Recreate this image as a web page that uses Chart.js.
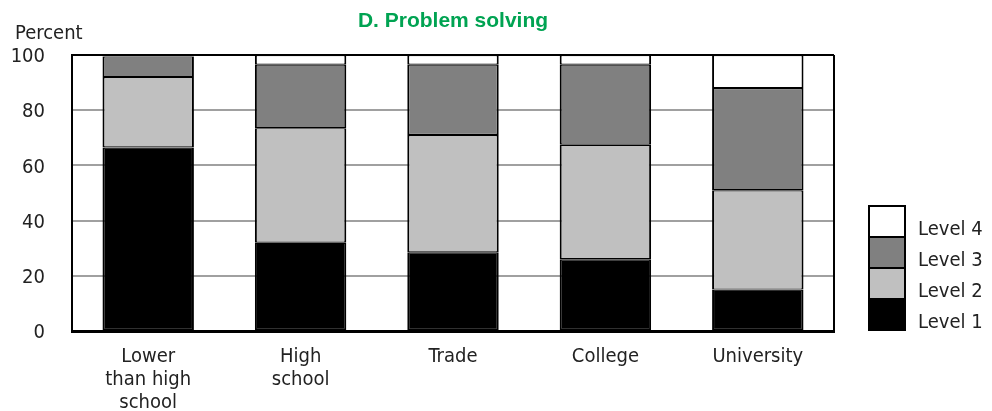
<!DOCTYPE html>
<html><head><meta charset="utf-8">
<script src="https://cdn.jsdelivr.net/npm/chart.js@4.4.1/dist/chart.umd.min.js"></script>
<style>html,body{margin:0;padding:0;background:#fff}#wrap{width:992px;height:411px}</style>
</head><body><div id="wrap"><canvas id="c" width="992" height="411"></canvas></div>
<script>
const categories = [["Lower","than high","school"], ["High","school"], "Trade", "College", "University"];
const level1 = [66.5, 32, 28.5, 26, 15];
const level2 = [25.5, 41.5, 42.5, 41.5, 36];
const level3 = [7.5, 23, 25.5, 29, 37];
const level4 = [0.5, 3.5, 3.5, 3.5, 12];
const seriesNames = ["Level 1", "Level 2", "Level 3", "Level 4"];
const seriesColors = ["#000000", "#c0c0c0", "#808080", "#ffffff"];
const yTicks = [0, 20, 40, 60, 80, 100];
const titleText = "D. Problem solving";
const yAxisLabel = "Percent";

const NARROW = "'Liberation Sans Narrow', 'Arial Narrow', 'DejaVu Sans Condensed', sans-serif";

const decor = {
  id: 'decor',
  afterDraw(chart) {
    const ctx = chart.ctx, a = chart.chartArea;
    ctx.save();
    // right border
    ctx.strokeStyle = '#000'; ctx.lineWidth = 2;
    ctx.beginPath(); ctx.moveTo(a.right, a.top); ctx.lineTo(a.right, a.bottom); ctx.stroke();
    // title
    ctx.fillStyle = '#00a352';
    ctx.font = "bold 21px 'Liberation Sans', Arial, sans-serif";
    ctx.textAlign = 'center'; ctx.textBaseline = 'alphabetic';
    ctx.fillText(titleText, (a.left + a.right) / 2, 27);
    // y axis label
    ctx.fillStyle = '#222';
    ctx.font = "20px " + NARROW;
    ctx.textAlign = 'left';
    ctx.fillText(yAxisLabel, 15, 39);
    // legend
    const bx = 869, bw = 36, bh = 31, top = 206;
    const ds = chart.data.datasets;
    for (let i = ds.length - 1, k = 0; i >= 0; i--, k++) {
      const y = top + k * bh;
      ctx.fillStyle = ds[i].backgroundColor;
      ctx.fillRect(bx, y, bw, bh);
      ctx.strokeStyle = '#000'; ctx.lineWidth = 2;
      ctx.strokeRect(bx, y, bw, bh);
      ctx.fillStyle = '#222';
      ctx.font = "20px " + NARROW;
      ctx.textAlign = 'left'; ctx.textBaseline = 'middle';
      ctx.fillText(ds[i].label, 918, y + bh / 2 + 8);
    }
    ctx.restore();
  }
};

new Chart(document.getElementById('c'), {
  type: 'bar',
  data: {
    labels: categories,
    datasets: [level1, level2, level3, level4].map((d, i) => ({
      label: seriesNames[i],
      data: d,
      backgroundColor: seriesColors[i],
      borderColor: '#000',
      borderWidth: { top: 1.2, bottom: 1.2, left: 2, right: 2 },
      borderSkipped: false,
      barPercentage: 0.6,
      categoryPercentage: 1.0
    }))
  },
  options: {
    responsive: false,
    animation: false,
    devicePixelRatio: 1,
    layout: { padding: { top: 55, right: 158, left: 0, bottom: 0 } },
    plugins: { legend: { display: false }, title: { display: false }, tooltip: { enabled: false } },
    scales: {
      x: {
        stacked: true,
        grid: { display: false, drawTicks: false },
        border: { display: true, color: '#000', width: 3 },
        ticks: { color: '#222', font: { family: NARROW, size: 20, lineHeight: 1.15 }, padding: 14, maxRotation: 0, autoSkip: false },
        afterFit(s) { s.height = 80; }
      },
      y: {
        stacked: true,
        min: 0, max: 100,
        afterBuildTicks(s) { s.ticks = yTicks.map(v => ({ value: v })); },
        grid: {
          drawTicks: false,
          color: (c) => c.tick && c.tick.value === 100 ? '#000' : '#a0a0a0',
          lineWidth: 2
        },
        border: { display: true, color: '#000', width: 2 },
        ticks: { color: '#222', font: { family: NARROW, size: 20 }, padding: 27, labelOffset: 2 },
        afterFit(s) { s.width = 72; }
      }
    }
  },
  plugins: [decor]
});
</script></body></html>
